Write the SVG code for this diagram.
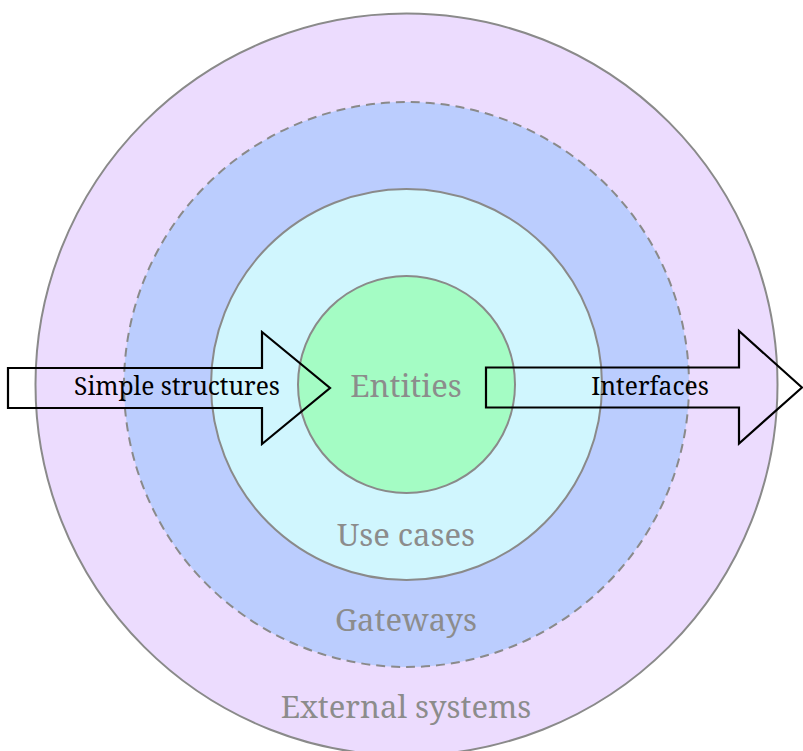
<svg xmlns="http://www.w3.org/2000/svg" width="803" height="751" viewBox="0 0 803 751">
<style>
.ring{stroke:#8a8a8a;stroke-width:2}
.lbl{font-family:"Noto Serif","DejaVu Serif",serif;fill:#8c8c8c;text-anchor:middle;font-size:31px}
.arrow{fill:none;stroke:#000;stroke-width:2.2}
.alab{font-family:"Noto Serif","DejaVu Serif",serif;fill:#000;text-anchor:middle;font-size:24.6px}
</style>
<rect width="803" height="751" fill="#fff"/>
<g id="external"><circle class="ring" cx="406.5" cy="384.5" r="371" fill="#ecdcfe"/><text class="lbl" x="406" y="718">External systems</text></g>
<g id="gateways"><circle class="ring" cx="406.5" cy="384.5" r="282.5" fill="#bbcdfe" stroke-dasharray="9,6"/><text class="lbl" x="406" y="631">Gateways</text></g>
<g id="usecases"><circle class="ring" cx="406.5" cy="384.5" r="195.5" fill="#d0f6fe"/><text class="lbl" x="406" y="546">Use cases</text></g>
<g id="entities"><circle class="ring" cx="406.5" cy="384.5" r="108.5" fill="#a4fcc4"/><text class="lbl" x="406" y="397">Entities</text></g>
<g id="connectors">
<g id="simple"><polygon class="arrow" points="8,368 262,368 262,332 330,388 262,444 262,408 8,408"/><text class="alab" x="177" y="395">Simple structures</text></g>
<g id="interfaces"><polygon class="arrow" points="486,367.5 739,367.5 739,331 802,387.5 739,443.5 739,407.5 486,407.5"/><text class="alab" x="650" y="395">Interfaces</text></g>
</g>
</svg>
